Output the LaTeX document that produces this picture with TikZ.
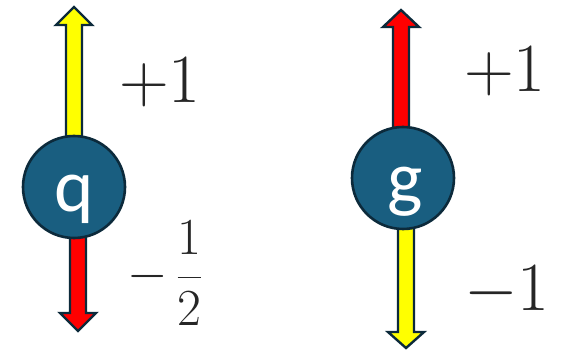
\RequirePackage{fix-cm}
\documentclass[tikz,border=0pt]{standalone}
\usepackage{fontspec}
\newfontfamily\carlito{Carlito}
\usetikzlibrary{calc}
\definecolor{ballfill}{HTML}{195E80}
\definecolor{edgecol}{HTML}{0C2A3B}
\definecolor{arryellow}{HTML}{FFFF00}
\definecolor{arrred}{HTML}{FF0000}
\tikzset{
  ball/.style={circle, draw=edgecol, line width=2.6pt, fill=ballfill, minimum size=102pt, inner sep=0pt},
  balltext/.style={inner sep=0pt, anchor=base, text=white, font=\carlito\fontsize{75}{80}\selectfont},
  fatarrow/.style={draw=edgecol, line width=2.4pt, line join=miter},
  lbl/.style={inner sep=0pt, anchor=base west, text=black!85}
}
\begin{document}
\begin{tikzpicture}[x=1pt,y=-1pt]
\useasboundingbox (0,0) rectangle (564,352);
% arrows (drawn first, circles on top)
% left: q
\coordinate (qtop) at (74,7);
\coordinate (qbot) at (78,331);
\draw[fatarrow, fill=arryellow] (66,160) -- (66,25) -- (56,25) -- (qtop) -- (92,25) -- (82,25) -- (82,160) -- cycle;
\draw[fatarrow, fill=arrred] (70,210) -- (70,313) -- (60,313) -- (qbot) -- (96,313) -- (86,313) -- (86,210) -- cycle;
% right: g
\coordinate (gtop) at (401,10);
\coordinate (gbot) at (406,348);
\draw[fatarrow, fill=arrred] (393,150) -- (393,27) -- (383,27) -- (gtop) -- (419,27) -- (409,27) -- (409,150) -- cycle;
\draw[fatarrow, fill=arryellow] (398,205) -- (398,332) -- (388,332) -- (gbot) -- (424,332) -- (414,332) -- (414,205) -- cycle;
% balls
\node[ball] (qc) at (74,187) {};
\node[ball] (gc) at (403,178) {};
\node[balltext] (qt) at ($(qc)+(0,25)$) {q};
\node[balltext] (gt) at ($(gc)+(2,26)$) {g};
% labels
\node[lbl, font=\fontsize{69}{75}\selectfont] (qp) at (119,103) {$+1$};
\node[lbl, font=\fontsize{52}{60}\selectfont] (qm) at (127,290) {$-\mskip3mu\displaystyle\frac{1}{2}$};
\node[lbl, font=\fontsize{69}{75}\selectfont] (gp) at (464,92) {$+1$};
\node[lbl, font=\fontsize{69}{75}\selectfont] (gm) at (464,310) {$-1$};
\end{tikzpicture}
\end{document}
